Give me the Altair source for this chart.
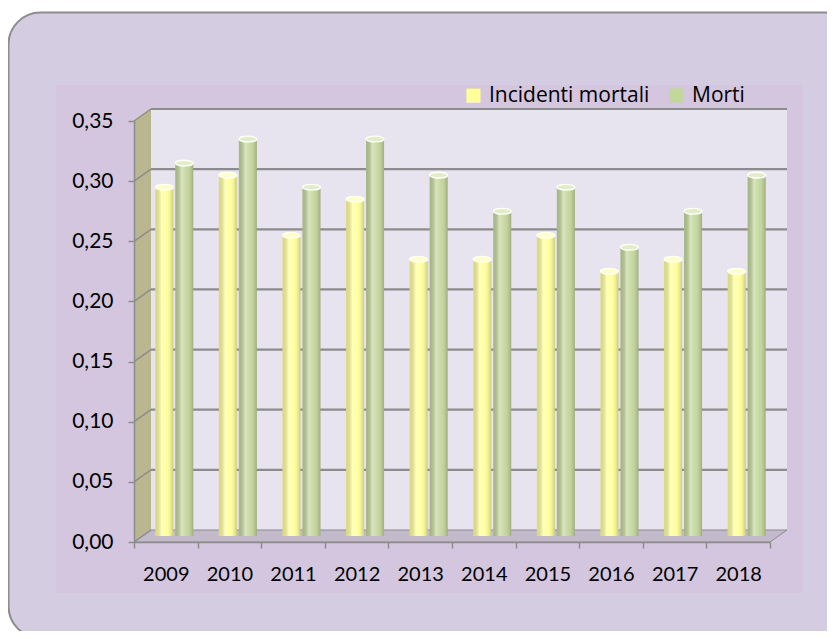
import altair as alt
import pandas as pd

# ---- data ----
years = ["2009", "2010", "2011", "2012", "2013", "2014", "2015", "2016", "2017", "2018"]
series = ["Incidenti mortali", "Morti"]
incidenti = [0.29, 0.30, 0.25, 0.28, 0.23, 0.23, 0.25, 0.22, 0.23, 0.22]
morti = [0.31, 0.33, 0.29, 0.33, 0.30, 0.27, 0.29, 0.24, 0.27, 0.30]
y_ticks = [0.0, 0.05, 0.10, 0.15, 0.20, 0.25, 0.30, 0.35]

bars_df = pd.DataFrame({
    "year": years * 2,
    "series": [series[0]] * len(years) + [series[1]] * len(years),
    "value": incidenti + morti,
})
grid_df = pd.DataFrame({"v": y_ticks})
one = pd.DataFrame({"k": [0]})

# ---- geometry / style ----
W, H = 636, 421
DX, DY = 17, 12
FONT = "Lato"
LFONT = "Open Sans"
GREY = "#8c8c8c"

x_scale = alt.Scale(paddingInner=0, paddingOuter=0)
xo_scale = alt.Scale(domain=series, paddingInner=0.1, paddingOuter=0.64, align=0.83)
y_scale = alt.Scale(domain=[0, 0.35], nice=False, zero=True)

y_axis = alt.Axis(values=y_ticks, title=None, grid=False,
                  labelExpr="replace(format(datum.value, '.2f'), '.', ',')",
                  domainColor=GREY, domainWidth=1.5, tickColor=GREY, tickWidth=1.5,
                  tickSize=6, labelFont=FONT, labelFontSize=21, labelColor="#000",
                  labelPadding=15, zindex=1)
x_axis = alt.Axis(title=None, labelAngle=0, tickBand="extent", grid=False,
                  domainColor=GREY, domainWidth=1.5, tickColor=GREY, tickWidth=1.5,
                  tickSize=6, labelFont=FONT, labelFontSize=20, labelColor="#000",
                  labelPadding=16, zindex=1)

# outer rounded frame
outer = alt.Chart(one).mark_rect(cornerRadius=32, fill="#d4cde1", stroke=GREY, strokeWidth=2).encode(
    x=alt.value(-125.5), x2=alt.value(W + 300), y=alt.value(-108.5), y2=alt.value(H + 96))
# chart area
inner = alt.Chart(one).mark_rect(fill="#d3c6de").encode(
    x=alt.value(-78), x2=alt.value(W + 33), y=alt.value(-36), y2=alt.value(H + 51))
# back wall
back = alt.Chart(one).mark_rect(fill="#e7e3ef").encode(
    x=alt.value(DX), x2=alt.value(W + DX), y=alt.value(-DY), y2=alt.value(H - DY))

s_lw = (H + DY) / 2
a = (DX / 2) / s_lw
b = (H - DY) / 2 / s_lw
LW_PATH = f"M {-a:.5f} {-b:.5f} L {a:.5f} -1 L {a:.5f} {b:.5f} L {-a:.5f} 1 Z"
left_wall = alt.Chart(one).mark_point(shape=LW_PATH, size=(H + DY) ** 2, filled=True,
                                      fill="#bab68f", opacity=1, strokeWidth=0).encode(
    x=alt.value(DX / 2), y=alt.value((H - DY) / 2))

s_fl = (W + DX) / 2
d = (DY / 2) / s_fl
e = 2 * W / (W + DX) - 1
FL_PATH = f"M -1 {d:.5f} L {e:.5f} {d:.5f} L 1 {-d:.5f} L {-e:.5f} {-d:.5f} Z"
floor = alt.Chart(one).mark_point(shape=FL_PATH, size=(W + DX) ** 2, filled=True,
                                  fill="#c2bacb", opacity=1, stroke=GREY, strokeWidth=1).encode(
    x=alt.value((W + DX) / 2), y=alt.value(H - DY / 2))

grid_back = alt.Chart(grid_df).transform_filter("datum.v > 0").mark_rule(
    color=GREY, strokeWidth=2.2, yOffset=-DY).encode(
    x=alt.value(DX), x2=alt.value(W + DX),
    y=alt.Y("v:Q", scale=y_scale, axis=y_axis))
grid_diag = alt.Chart(grid_df).mark_rule(color=GREY, strokeWidth=1.5, y2Offset=-DY).encode(
    x=alt.value(0), x2=alt.value(DX),
    y=alt.Y("v:Q", scale=y_scale, axis=y_axis), y2=alt.Y2("v:Q"))

enc = dict(
    x=alt.X("year:N", scale=x_scale, axis=x_axis),
    xOffset=alt.XOffset("series:N", scale=xo_scale),
    y=alt.Y("value:Q", scale=y_scale, axis=y_axis),
)

bars = alt.Chart(bars_df).mark_bar(yOffset=-6, y2Offset=-3).encode(
    color=alt.Color("series:N", scale=alt.Scale(domain=series, range=["#ffff99", "#c3d69b"]),
                    legend=alt.Legend(title=None, orient="none", legendX=329, legendY=-36,
                                      direction="horizontal", symbolType="square",
                                      symbolSize=200, symbolStrokeWidth=0, symbolOpacity=1,
                                      labelFont=LFONT, labelFontSize=21, labelColor="#000",
                                      labelOffset=5, columnPadding=16, padding=0,
                                      labelLimit=400)),
    **enc)

shade = alt.Chart(bars_df).mark_bar(
    yOffset=-6, y2Offset=-3,
    fill=alt.LinearGradient(gradient="linear", x1=0, x2=1, y1=0, y2=0, stops=[
        alt.GradientStop(color="rgba(0,0,0,0.14)", offset=0),
        alt.GradientStop(color="rgba(255,255,255,0.35)", offset=0.35),
        alt.GradientStop(color="rgba(255,255,255,0.05)", offset=0.65),
        alt.GradientStop(color="rgba(0,0,0,0.20)", offset=1),
    ])).encode(**enc)

ELLIPSE = "M -1 0 A 1 0.32 0 1 1 1 0 A 1 0.32 0 1 1 -1 0 Z"
tops = alt.Chart(bars_df).mark_point(shape=ELLIPSE, size=324, filled=True, opacity=1,
                                     stroke="white", strokeWidth=1.3, yOffset=-6).encode(
    fill=alt.Fill("series:N", scale=alt.Scale(domain=series, range=["#ffffcc", "#e2ecc9"]),
                  legend=None),
    **enc)

chart = alt.layer(outer, inner, back, left_wall, floor, grid_back, grid_diag, bars, shade, tops).properties(
    width=W, height=H,
    autosize=alt.AutoSizeParams(type="none"),
    padding={"left": 126, "top": 113, "right": 57, "bottom": 89},
    background="white",
).configure_view(strokeWidth=0)

chart.save("out.html", embed_options={"renderer": "svg", "actions": False})
